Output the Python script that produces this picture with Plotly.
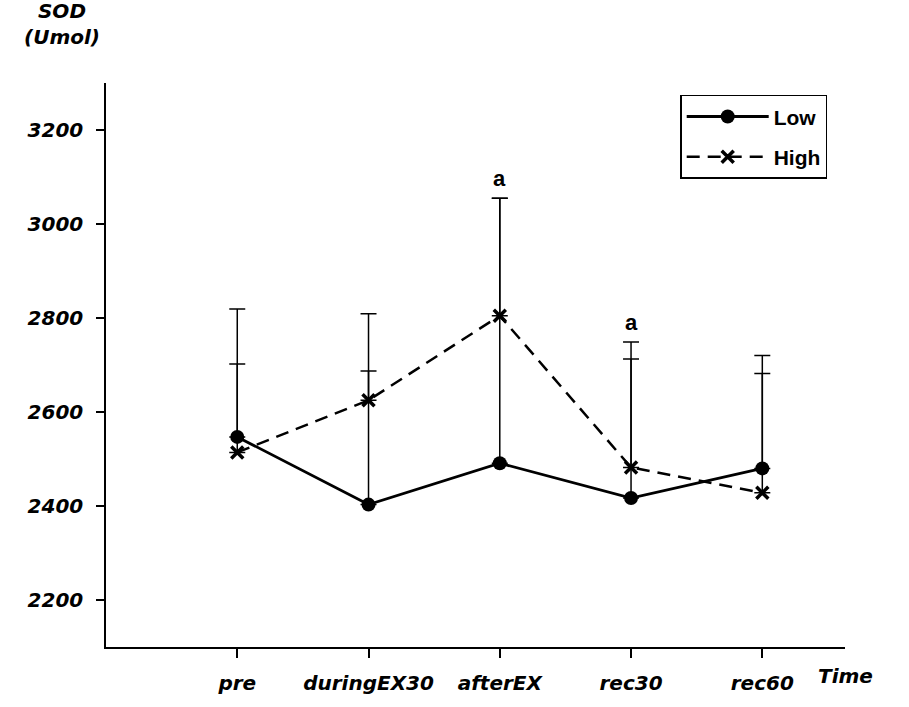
import plotly.graph_objects as go

# Time points and SOD values (Umol)
time_points = ["pre", "duringEX30", "afterEX", "rec30", "rec60"]
low_mean = [2547, 2403, 2491, 2417, 2480]
low_sd = [155, 284, 564, 296, 240]
high_mean = [2514, 2625, 2805, 2482, 2428]
high_sd = [305, 184, 250, 267, 254]
sig_points = ["afterEX", "rec30"]
sig_tops = [3055, 2749]

TICK_FONT = "DejaVu Sans"
LEG_FONT = "Liberation Sans, Arial"

fig = go.Figure()

fig.add_trace(go.Scatter(
    x=time_points, y=low_mean, name="Low", mode="lines+markers",
    legendgroup="low",
    line=dict(color="black", width=2.8),
    marker=dict(symbol="circle", size=14, color="black"),
    error_y=dict(type="data", symmetric=False, array=low_sd,
                 arrayminus=[0] * len(low_sd), color="black",
                 thickness=1.5, width=8),
))
fig.add_trace(go.Scatter(
    x=time_points, y=high_mean, name="High", mode="lines+markers",
    legendgroup="high",
    line=dict(color="black", width=2.5, dash="13px,8px"),
    marker=dict(symbol="x-thin", size=12, color="black",
                line=dict(color="black", width=3.5)),
    error_y=dict(type="data", symmetric=False, array=high_sd,
                 arrayminus=[0] * len(high_sd), color="black",
                 thickness=1.5, width=8),
))

# significance markers above the error bars
for xp, yt in zip(sig_points, sig_tops):
    fig.add_annotation(x=xp, y=yt, text="a", showarrow=False,
                       yanchor="bottom", yshift=5,
                       font=dict(family=LEG_FONT, size=22, color="black",
                                 weight="bold"))

# axis titles
fig.add_annotation(xref="paper", yref="paper", x=-0.060, y=1.105,
                   text="SOD<br>(Umol)", showarrow=False,
                   xanchor="center", yanchor="middle", align="center",
                   font=dict(family=TICK_FONT, size=20, color="black",
                             weight="bold", style="italic"))
fig.add_annotation(xref="paper", yref="paper", x=1.001, y=-0.052,
                   text="Time", showarrow=False,
                   xanchor="center", yanchor="middle",
                   font=dict(family=TICK_FONT, size=20, color="black",
                             weight="bold", style="italic"))

fig.update_layout(
    width=909, height=707,
    margin=dict(l=106, r=64, t=83, b=57),
    paper_bgcolor="white", plot_bgcolor="white",
    showlegend=True,
    legend=dict(x=0.777, y=0.979, xanchor="left", yanchor="top",
                bordercolor="black", borderwidth=1.5, bgcolor="white",
                font=dict(family=LEG_FONT, size=21, color="black",
                          weight="bold"),
                itemwidth=82, tracegroupgap=10),
    xaxis=dict(type="category", range=[-1, 4.63],
               showline=True, linecolor="black", linewidth=1.5,
               showgrid=False, zeroline=False,
               ticks="outside", ticklen=9, tickwidth=1.5, tickcolor="black",
               ticklabelstandoff=8,
               tickfont=dict(family=TICK_FONT, size=20, color="black",
                             weight="bold", style="italic")),
    yaxis=dict(range=[2100, 3300],
               tickvals=[2200, 2400, 2600, 2800, 3000, 3200],
               showline=True, linecolor="black", linewidth=1.5,
               showgrid=False, zeroline=False,
               ticks="outside", ticklen=8, tickwidth=1.5, tickcolor="black",
               ticklabelstandoff=9,
               tickfont=dict(family=TICK_FONT, size=20, color="black",
                             weight="bold", style="italic")),
)

fig.write_html("out.html")
